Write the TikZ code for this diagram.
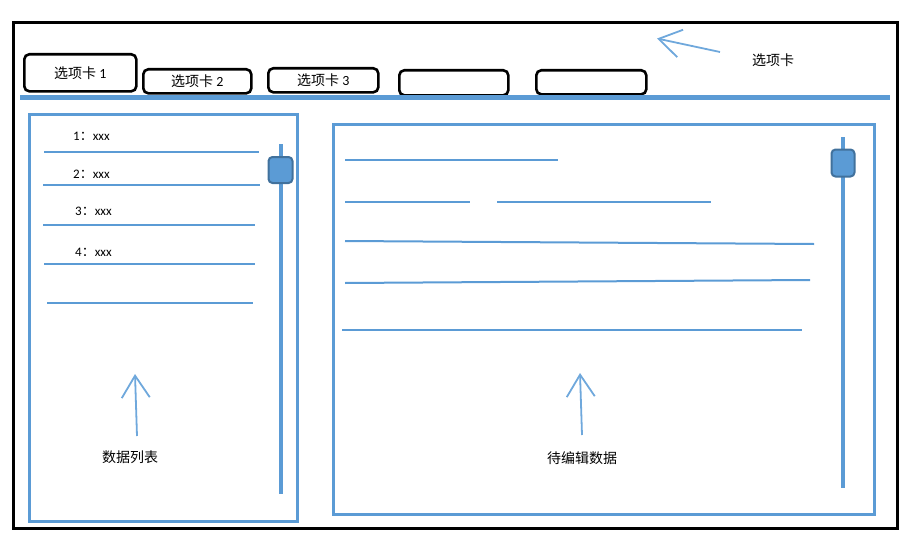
\documentclass[tikz,border=0pt]{standalone}
\usepackage{fontspec}
\setmainfont{Noto Sans CJK SC}
\newfontfamily\digitfont{Carlito}
\usetikzlibrary{arrows.meta}
\definecolor{uiblue}{HTML}{5B9BD5}
\definecolor{uidark}{HTML}{41719C}
\definecolor{arrowblue}{HTML}{6FA8DC}
\tikzset{
  tabbox/.style={draw=black, line width=2.6pt, rounded corners=5pt, inner sep=0pt, anchor=north west, font=\fontsize{14}{16}\selectfont},
  panel/.style={draw=uiblue, line width=3pt, inner sep=0pt, anchor=north west},
  rowline/.style={draw=uiblue, line width=2pt},
  scrollbar/.style={draw=uiblue, line width=4pt},
  thumb/.style={draw=uidark, fill=uiblue, line width=2pt, rounded corners=4pt, inner sep=0pt},
  callout/.style={draw=arrowblue, line width=1.8pt, -{Straight Barb[length=22pt,width=28pt,line width=1.8pt]}},
  lbl/.style={font=\fontsize{14}{16}\selectfont, inner sep=0pt},
  item/.style={font=\fontsize{13}{15}\selectfont, inner sep=0pt, anchor=west}
}
\begin{document}
\begin{tikzpicture}[x=1pt,y=-1pt]
\useasboundingbox (0,0) rectangle (907,535);
% outer frame
\node[draw=black, line width=3pt, inner sep=0pt, minimum width=884.5pt, minimum height=505.5pt, anchor=north west] (frame) at (11.5,21.5) {};
% tabs
\node[tabbox, minimum width=112pt, minimum height=37pt] (tab1) at (23,53) {选项卡 {\digitfont 1}};
\node[tabbox, minimum width=108pt, minimum height=24pt] (tab2) at (142,68) {\raisebox{-2pt}{选项卡 {\digitfont 2}}};
\node[tabbox, minimum width=110pt, minimum height=24pt] (tab3) at (267,67) {\raisebox{1pt}{选项卡 {\digitfont 3}}};
\node[tabbox, minimum width=109pt, minimum height=25pt] (tab4) at (398,69) {};
\node[tabbox, minimum width=110pt, minimum height=24pt] (tab5) at (535,69) {};
% blue tab bar
\coordinate (barL) at (20,97.5);
\coordinate (barR) at (890,97.5);
\draw[draw=uiblue, line width=5pt] (barL) -- (barR);
% top callout
\coordinate (tabTail) at (720,52);
\coordinate (tabTip) at (657,38.5);
\draw[callout] (tabTail) -- (tabTip);
\node[lbl] (tabLabel) at (773,60) {选项卡};
% left panel
\node[panel, minimum width=268pt, minimum height=407pt] (left) at (28,113) {};
\node[item] (i1) at (73,136) {{\digitfont 1}：{\digitfont xxx}};
\node[item] (i2) at (73,174) {{\digitfont 2}：{\digitfont xxx}};
\node[item] (i3) at (75,211) {{\digitfont 3}：{\digitfont xxx}};
\node[item] (i4) at (75,252) {{\digitfont 4}：{\digitfont xxx}};
\draw[rowline] (44,152) coordinate (l1a) -- (259,152) coordinate (l1b);
\draw[rowline] (43,185) coordinate (l2a) -- (260,185) coordinate (l2b);
\draw[rowline] (43,225) coordinate (l3a) -- (255,225) coordinate (l3b);
\draw[rowline] (44,264) coordinate (l4a) -- (255,264) coordinate (l4b);
\draw[rowline] (47,303) coordinate (l5a) -- (253,303) coordinate (l5b);
\draw[scrollbar] (281,144) coordinate (ls1) -- (281,494) coordinate (ls2);
\node[thumb, minimum width=24pt, minimum height=26pt] (lthumb) at (280.5,170) {};
\coordinate (lTail) at (137,436);
\coordinate (lTip) at (135,374);
\draw[callout] (lTail) -- (lTip);
\node[lbl] (leftLabel) at (130,457) {数据列表};
% right panel
\node[panel, minimum width=541pt, minimum height=390pt] (right) at (332,123) {};
\draw[rowline] (345,160) coordinate (r1a) -- (558,160) coordinate (r1b);
\draw[rowline] (345,202) coordinate (r2a) -- (470,202) coordinate (r2b);
\draw[rowline] (497,202) coordinate (r2c) -- (711,202) coordinate (r2d);
\draw[rowline] (345,241) coordinate (r3a) -- (814,244) coordinate (r3b);
\draw[rowline] (345,283) coordinate (r4a) -- (810,280) coordinate (r4b);
\draw[rowline] (342,330) coordinate (r5a) -- (802,330) coordinate (r5b);
\draw[scrollbar] (843,137) coordinate (rs1) -- (843,488) coordinate (rs2);
\node[thumb, minimum width=23pt, minimum height=27pt] (rthumb) at (843,163) {};
\coordinate (rTail) at (582,435);
\coordinate (rTip) at (580,373);
\draw[callout] (rTail) -- (rTip);
\node[lbl] (rightLabel) at (582,458) {待编辑数据};
\end{tikzpicture}
\end{document}
